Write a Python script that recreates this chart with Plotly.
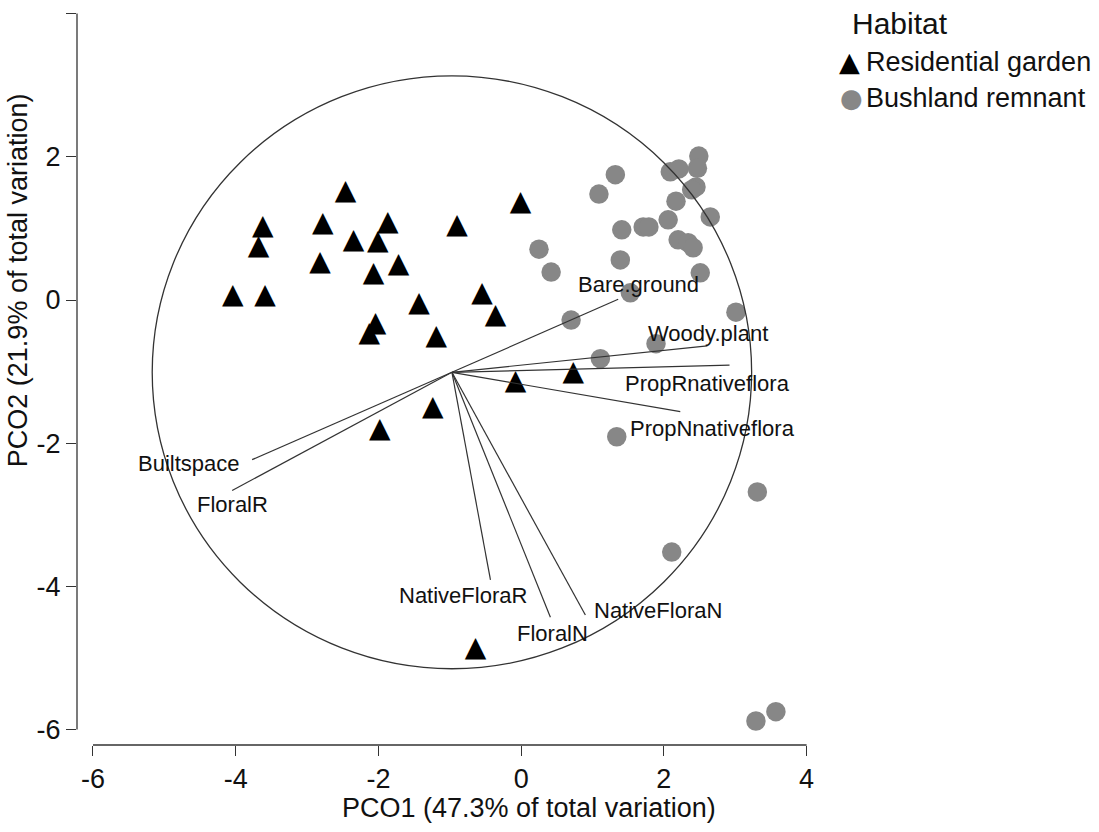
import plotly.graph_objects as go

# PCO scores for each site (PCO1, PCO2)
garden_pco1 = [-2.46, -3.62, -3.68, -2.78, -1.87, -2.35, -2.01, -2.82, -1.72, -2.07,
               -4.04, -3.59, -0.90, -1.43, -0.55, -0.36, -2.04, -2.13, -1.19, -0.01,
               0.73, -0.08, -1.24, -1.98, -0.64]
garden_pco2 = [1.51, 1.02, 0.74, 1.06, 1.08, 0.82, 0.81, 0.52, 0.49, 0.36,
               0.05, 0.05, 1.03, -0.06, 0.08, -0.23, -0.34, -0.48, -0.52, 1.35,
               -1.02, -1.14, -1.51, -1.81, -4.87]

bush_pco1 = [2.49, 2.47, 2.09, 2.21, 2.45, 2.39, 1.32, 1.09, 2.17, 2.65,
             2.06, 1.71, 1.79, 1.41, 2.20, 2.34, 2.41, 1.39, 2.51, 0.25,
             0.42, 1.53, 0.70, 3.01, 1.89, 1.11, 1.34, 3.31, 2.11, 3.29, 3.57]
bush_pco2 = [2.01, 1.84, 1.79, 1.83, 1.58, 1.54, 1.75, 1.48, 1.38, 1.16,
             1.12, 1.02, 1.02, 0.98, 0.84, 0.80, 0.73, 0.56, 0.38, 0.71,
             0.39, 0.10, -0.28, -0.17, -0.61, -0.82, -1.91, -2.68, -3.52, -5.88, -5.75]

# Habitat variable vectors (end points, drawn from a common origin)
variables = ["Bare.ground", "Woody.plant", "PropRnativeflora", "PropNnativeflora",
             "Builtspace", "FloralR", "NativeFloraR", "FloralN", "NativeFloraN"]
vector_x = [1.36, 2.61, 2.92, 2.23, -3.77, -4.05, -0.43, 0.41, 0.90]
vector_y = [0.01, -0.64, -0.91, -1.56, -2.23, -2.66, -3.91, -4.43, -4.40]
origin_x, origin_y = -0.97, -1.01

# Axis ticks
tick_values = [-6, -4, -2, 0, 2, 4]
tick_labels = ["-6", "-4", "-2", "0", "2", "4"]

group_names = ["Residential garden", "Bushland remnant"]
legend_title = "Habitat"
x_title = "PCO1 (47.3% of total variation)"
y_title = "PCO2 (21.9% of total variation)"

# ---- styling -------------------------------------------------------------
FONT = "Liberation Sans, Arial, sans-serif"
GLYPH_FONT = "DejaVu Sans"
INK = "#111111"
AXIS_INK = "#333333"
GREY = "#878787"
circle_radius_x, circle_radius_y = 4.2, 4.14
# where each vector label sits relative to its vector end
label_offsets = [(0.29, 0.21), (0.01, 0.17), (-0.31, -0.25), (0.45, -0.23),
                 (-0.88, -0.05), (0.0, -0.20), (-0.39, -0.21), (0.03, -0.23),
                 (1.02, 0.06)]

fig = go.Figure()

fig.add_trace(go.Scatter(
    x=bush_pco1, y=bush_pco2, mode="markers", name=group_names[1],
    marker=dict(symbol="circle", size=19.5, color=GREY, line=dict(width=0)),
    showlegend=False, hoverinfo="skip"))

fig.add_trace(go.Scatter(
    x=garden_pco1, y=garden_pco2, mode="text", name=group_names[0],
    text=["\u25B2"] * len(garden_pco1), textposition="middle center",
    textfont=dict(family=GLYPH_FONT, size=28, color="black"),
    showlegend=False, hoverinfo="skip"))

# vectors from the common origin
vx, vy = [], []
for ex, ey in zip(vector_x, vector_y):
    vx += [origin_x, ex, None]
    vy += [origin_y, ey, None]
fig.add_trace(go.Scatter(x=vx, y=vy, mode="lines",
                         line=dict(color=AXIS_INK, width=1.2),
                         showlegend=False, hoverinfo="skip"))

shapes = [
    dict(type="circle", xref="x", yref="y", layer="above",
         x0=origin_x - circle_radius_x, x1=origin_x + circle_radius_x,
         y0=origin_y - circle_radius_y, y1=origin_y + circle_radius_y,
         line=dict(color=AXIS_INK, width=1.3)),
    # detached axis lines spanning the tick range
    dict(type="line", xref="x", yref="paper", x0=tick_values[0], x1=tick_values[-1],
         y0=0, y1=0, line=dict(color=AXIS_INK, width=1.3)),
    dict(type="line", xref="paper", yref="y", x0=0, x1=0, y0=tick_values[0],
         y1=tick_values[-1], line=dict(color=AXIS_INK, width=1.3)),
]

annotations = []
for name, ex, ey, (dx, dy) in zip(variables, vector_x, vector_y, label_offsets):
    annotations.append(dict(x=ex + dx, y=ey + dy, xref="x", yref="y", text=name,
                            showarrow=False, xanchor="center", yanchor="middle",
                            font=dict(family=FONT, size=22, color=INK)))

# axis titles
annotations.append(dict(text=x_title, xref="paper", yref="paper", x=0.606, y=-0.085,
                        xanchor="center", yanchor="middle", showarrow=False,
                        font=dict(family=FONT, size=27, color=INK)))
annotations.append(dict(text=y_title, xref="paper", yref="paper", x=-0.079, y=0.624,
                        xanchor="center", yanchor="middle", showarrow=False,
                        textangle=-90, font=dict(family=FONT, size=27, color=INK)))

# legend
annotations.append(dict(text=legend_title, xref="paper", yref="paper", x=1.036, y=0.968,
                        xanchor="left", yanchor="middle", showarrow=False,
                        font=dict(family=FONT, size=30, color=INK)))
annotations.append(dict(text="\u25B2", xref="paper", yref="paper", x=1.0349, y=0.917,
                        xanchor="center", yanchor="middle", showarrow=False,
                        font=dict(family=GLYPH_FONT, size=27, color="black")))
annotations.append(dict(text=group_names[0], xref="paper", yref="paper", x=1.0555, y=0.917,
                        xanchor="left", yanchor="middle", showarrow=False,
                        font=dict(family=FONT, size=27, color=INK)))
annotations.append(dict(text="\u25CF", xref="paper", yref="paper", x=1.0376, y=0.869,
                        xanchor="center", yanchor="middle", showarrow=False,
                        font=dict(family=GLYPH_FONT, size=26, color=GREY)))
annotations.append(dict(text=group_names[1], xref="paper", yref="paper", x=1.0555, y=0.869,
                        xanchor="left", yanchor="middle", showarrow=False,
                        font=dict(family=FONT, size=27, color=INK)))

axis_common = dict(showgrid=False, zeroline=False, showline=False,
                   ticks="outside", ticklen=10, tickwidth=1.3, tickcolor=AXIS_INK,
                   tickvals=tick_values, ticktext=tick_labels,
                   tickfont=dict(family=FONT, size=27, color=INK))

fig.update_layout(
    width=1099, height=832,
    margin=dict(l=77, r=276, t=0, b=87),
    paper_bgcolor="white", plot_bgcolor="white",
    xaxis=dict(range=[-6.224, 4.23], **axis_common),
    yaxis=dict(range=[-6.215, 4.19], **axis_common),
    shapes=shapes, annotations=annotations,
    showlegend=False,
)

fig.write_html("out.html")
